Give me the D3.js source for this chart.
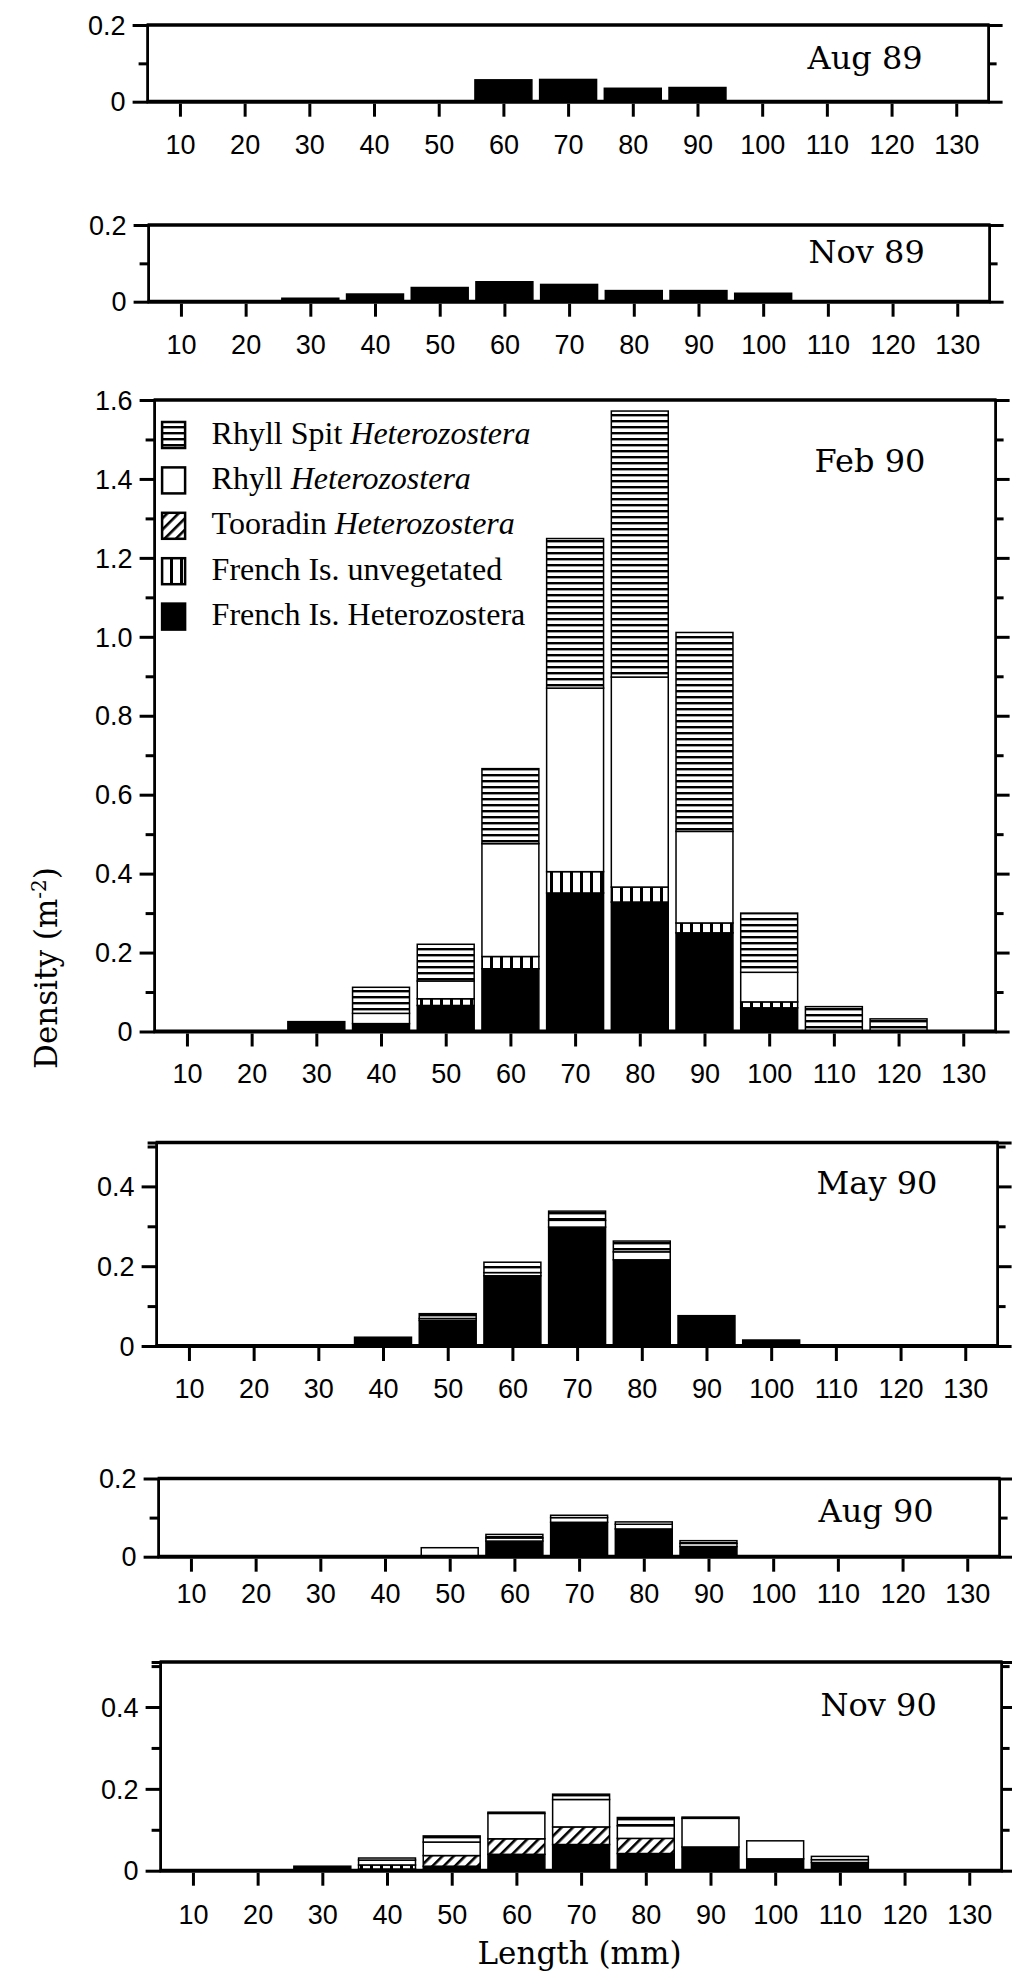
<!DOCTYPE html>
<html lang="en">
<head>
<meta charset="UTF-8">
<script src="https://d3js.org/d3.v7.min.js"></script>
<style>
  body { margin: 0; background: white; }
  .tick text { font-family: "Liberation Sans", Arial, sans-serif; font-size: 27px; fill: black; }
  .tick line { stroke: black; stroke-width: 3; }
  .frame { stroke: black; fill: none; }
  .month { font-family: "DejaVu Serif", serif; font-size: 32px; fill: black; }
  .legend text { font-family: "Liberation Serif", "Times New Roman", serif; font-size: 32px; fill: black; }
  .axis-title { font-family: "DejaVu Serif", serif; font-size: 31px; fill: black; }
  .seg { stroke: black; stroke-width: 1.5; }
</style>
</head>
<body>
<div id="chart"></div>
<script>
// length classes (mm)
const lengths = [10, 20, 30, 40, 50, 60, 70, 80, 90, 100, 110, 120, 130];

// stack order, bottom to top; [plain text, italic text]
const seriesNames = [
  ["French Is. Heterozostera", ""],
  ["French Is. unvegetated", ""],
  ["Tooradin ", "Heterozostera"],
  ["Rhyll ", "Heterozostera"],
  ["Rhyll Spit ", "Heterozostera"]
];

const monthLabels = ["Aug 89", "Nov 89", "Feb 90", "May 90", "Aug 90", "Nov 90"];
const yMax = [0.2, 0.2, 1.6, 0.51, 0.2, 0.51];

// density (m-2) per length class, one row per series in seriesNames order
const aug89 = [
  [0, 0, 0, 0, 0, 0.057, 0.058, 0.035, 0.037, 0, 0, 0, 0],
  [0, 0, 0, 0, 0, 0, 0, 0, 0, 0, 0, 0, 0],
  [0, 0, 0, 0, 0, 0, 0, 0, 0, 0, 0, 0, 0],
  [0, 0, 0, 0, 0, 0, 0, 0, 0, 0, 0, 0, 0],
  [0, 0, 0, 0, 0, 0, 0, 0, 0, 0, 0, 0, 0]
];
const nov89 = [
  [0, 0, 0.009, 0.020, 0.037, 0.052, 0.045, 0.029, 0.029, 0.022, 0, 0, 0],
  [0, 0, 0, 0, 0, 0, 0, 0, 0, 0, 0, 0, 0],
  [0, 0, 0, 0, 0, 0, 0, 0, 0, 0, 0, 0, 0],
  [0, 0, 0, 0, 0, 0, 0, 0, 0, 0, 0, 0, 0],
  [0, 0, 0, 0, 0, 0, 0, 0, 0, 0, 0, 0, 0]
];
const feb90 = [
  [0, 0, 0.025, 0.020, 0.066, 0.159, 0.351, 0.328, 0.250, 0.060, 0, 0, 0],
  [0, 0, 0, 0, 0.017, 0.031, 0.054, 0.038, 0.025, 0.015, 0, 0, 0],
  [0, 0, 0, 0, 0, 0, 0, 0, 0, 0, 0, 0, 0],
  [0, 0, 0, 0.026, 0.045, 0.286, 0.465, 0.532, 0.232, 0.075, 0, 0, 0],
  [0, 0, 0, 0.066, 0.093, 0.190, 0.379, 0.674, 0.504, 0.150, 0.063, 0.032, 0]
];
const may90 = [
  [0, 0, 0, 0.022, 0.064, 0.176, 0.298, 0.216, 0.076, 0.015, 0, 0, 0],
  [0, 0, 0, 0, 0, 0, 0, 0, 0, 0, 0, 0, 0],
  [0, 0, 0, 0, 0, 0, 0, 0, 0, 0, 0, 0, 0],
  [0, 0, 0, 0, 0.005, 0.008, 0.017, 0.020, 0, 0, 0, 0, 0],
  [0, 0, 0, 0, 0.012, 0.026, 0.023, 0.027, 0, 0, 0, 0, 0]
];
const aug90 = [
  [0, 0, 0, 0, 0.002, 0.040, 0.088, 0.071, 0.026, 0, 0, 0, 0],
  [0, 0, 0, 0, 0, 0, 0, 0, 0, 0, 0, 0, 0],
  [0, 0, 0, 0, 0, 0, 0, 0, 0, 0, 0, 0, 0],
  [0, 0, 0, 0, 0.021, 0.008, 0.012, 0.012, 0.008, 0, 0, 0, 0],
  [0, 0, 0, 0, 0, 0.009, 0.006, 0.006, 0.007, 0, 0, 0, 0]
];
const nov90 = [
  [0, 0, 0.011, 0.004, 0.011, 0.040, 0.064, 0.042, 0.058, 0.029, 0.020, 0, 0],
  [0, 0, 0, 0.010, 0, 0, 0, 0, 0, 0, 0, 0, 0],
  [0, 0, 0, 0, 0.026, 0.038, 0.043, 0.037, 0, 0, 0, 0, 0],
  [0, 0, 0, 0.012, 0.033, 0.062, 0.067, 0.031, 0.070, 0.044, 0.007, 0, 0],
  [0, 0, 0, 0.005, 0.015, 0.003, 0.013, 0.020, 0.003, 0, 0.008, 0, 0]
];
const panelData = [aug89, nov89, feb90, may90, aug90, nov90];

// page position of each panel (the scan is slightly skewed, so x0 drifts)
const panels = [
  { x0: 147.6, top: 25,     zero: 101.7,  labY: 43.5, gap: 43 },
  { x0: 148.6, top: 225,    zero: 301.7,  labY: 38,   gap: 43 },
  { x0: 154.6, top: 400,    zero: 1031.5, labY: 72,   gap: 41.5 },
  { x0: 156.6, top: 1142.5, zero: 1346,   labY: 51,   gap: 42 },
  { x0: 158.6, top: 1478.5, zero: 1556.7, labY: 43,   gap: 36.5 },
  { x0: 160.6, top: 1662,   zero: 1870.7, labY: 54,   gap: 44 }
];
const plotW = 841;
const halfBar = 4.4; // mm either side of the class mid-point

const svg = d3.select("#chart").append("svg")
  .attr("width", 1012)
  .attr("height", 1975);

svg.append("rect").attr("width", 1012).attr("height", 1975).attr("fill", "white");

// fill patterns
const defs = svg.append("defs");
const hs = defs.append("pattern").attr("id", "hstripe")
  .attr("patternUnits", "userSpaceOnUse").attr("width", 8).attr("height", 6);
hs.append("rect").attr("width", 8).attr("height", 6).attr("fill", "white");
hs.append("rect").attr("width", 8).attr("height", 2.4).attr("fill", "black");

const vs = defs.append("pattern").attr("id", "vstripe")
  .attr("patternUnits", "userSpaceOnUse").attr("width", 10).attr("height", 8);
vs.append("rect").attr("width", 10).attr("height", 8).attr("fill", "white");
vs.append("rect").attr("width", 3).attr("height", 8).attr("fill", "black");

const dg = defs.append("pattern").attr("id", "diag")
  .attr("patternUnits", "userSpaceOnUse").attr("width", 8).attr("height", 8)
  .attr("patternTransform", "rotate(45)");
dg.append("rect").attr("width", 8).attr("height", 8).attr("fill", "white");
dg.append("rect").attr("width", 2.6).attr("height", 8).attr("fill", "black");

const fills = ["black", "url(#vstripe)", "url(#diag)", "white", "url(#hstripe)"];

const fmt = d => d === 0 ? "0" : d.toFixed(1);

panels.forEach((p, pi) => {
  const data = panelData[pi];
  const x = d3.scaleLinear().domain([5, 135]).range([p.x0, p.x0 + plotW]);
  const y = d3.scaleLinear().domain([0, yMax[pi]]).range([p.zero, p.top]);

  const g = svg.append("g");

  // stacked bars
  const rows = lengths.map((L, i) => {
    const r = data.map(s => s[i]);
    r.L = L;
    return r;
  });
  const stacked = d3.stack().keys(d3.range(seriesNames.length))(rows);

  stacked.forEach((layer, k) => {
    g.append("g")
      .selectAll("rect")
      .data(layer.filter(d => d[1] - d[0] > 0))
      .enter()
      .append("rect")
      .attr("class", "seg")
      .attr("x", d => x(d.data.L - halfBar))
      .attr("width", d => x(d.data.L + halfBar) - x(d.data.L - halfBar))
      .attr("y", d => y(d[1]))
      .attr("height", d => y(d[0]) - y(d[1]))
      .attr("fill", fills[k]);
  });

  // ticks every 0.1, labels on the even ones
  const all = d3.range(0, yMax[pi] + 1e-9, 0.1).map(v => Math.round(v * 10) / 10);
  let major = all.filter(v => Math.round(v * 10) % 2 === 0);
  const minor = all.filter(v => Math.round(v * 10) % 2 === 1);
  const topTick = Math.abs(all[all.length - 1] - yMax[pi]) > 1e-6 ? [yMax[pi]] : [];

  g.append("g").attr("transform", `translate(${p.x0},0)`)
    .call(d3.axisLeft(y).tickValues(major).tickSize(15).tickPadding(7).tickFormat(fmt))
    .call(a => a.select(".domain").remove())
    .call(a => a.selectAll("text").attr("dy", "0.34em"));
  g.append("g").attr("transform", `translate(${p.x0},0)`)
    .call(d3.axisLeft(y).tickValues(minor.concat(topTick)).tickSize(9).tickFormat(""))
    .call(a => a.select(".domain").remove());
  g.append("g").attr("transform", `translate(${p.x0 + plotW},0)`)
    .call(d3.axisRight(y).tickValues(major.concat(topTick)).tickSize(14).tickFormat(""))
    .call(a => a.select(".domain").remove());
  g.append("g").attr("transform", `translate(${p.x0 + plotW},0)`)
    .call(d3.axisRight(y).tickValues(minor).tickSize(8).tickFormat(""))
    .call(a => a.select(".domain").remove());

  g.append("g").attr("transform", `translate(0,${p.zero + 2})`)
    .call(d3.axisBottom(x).tickValues(lengths).tickSize(13).tickPadding(p.gap - 24.5))
    .call(a => a.select(".domain").remove());

  // frame: heavy top and bottom, lighter sides
  g.append("line").attr("class", "frame").attr("stroke-width", 3.5)
    .attr("x1", p.x0 - 1).attr("x2", p.x0 + plotW + 1).attr("y1", p.top).attr("y2", p.top);
  g.append("line").attr("class", "frame").attr("stroke-width", 4)
    .attr("x1", p.x0 - 1).attr("x2", p.x0 + plotW + 1).attr("y1", p.zero).attr("y2", p.zero);
  g.append("line").attr("class", "frame").attr("stroke-width", 2.8)
    .attr("x1", p.x0).attr("x2", p.x0).attr("y1", p.top).attr("y2", p.zero);
  g.append("line").attr("class", "frame").attr("stroke-width", 2.8)
    .attr("x1", p.x0 + plotW).attr("x2", p.x0 + plotW).attr("y1", p.top).attr("y2", p.zero);

  g.append("text")
    .attr("class", "month")
    .attr("x", p.x0 + 660)
    .attr("y", p.top + p.labY)
    .text(monthLabels[pi]);
});

// legend inside the Feb 90 panel
const lp = panels[2];
const legend = svg.append("g").attr("class", "legend");
const legendOrder = d3.range(seriesNames.length).reverse();
legendOrder.forEach((k, i) => {
  const base = 443.5 + i * 45.4;
  legend.append("rect")
    .attr("x", lp.x0 + 7.5)
    .attr("y", base - 21.5)
    .attr("width", 23)
    .attr("height", 26)
    .attr("fill", fills[k])
    .attr("stroke", "black")
    .attr("stroke-width", 2.5);
  const t = legend.append("text").attr("x", lp.x0 + 57).attr("y", base);
  t.append("tspan").text(seriesNames[k][0]);
  if (seriesNames[k][1]) t.append("tspan").attr("font-style", "italic").text(seriesNames[k][1]);
});

// axis titles
const yt = svg.append("text")
  .attr("class", "axis-title")
  .attr("transform", "translate(57,968) rotate(-90)")
  .attr("text-anchor", "middle");
yt.append("tspan").text("Density (m");
yt.append("tspan").attr("font-size", "20px").attr("baseline-shift", "55%").text("-2");
yt.append("tspan").text(")");

svg.append("text")
  .attr("class", "axis-title")
  .attr("x", 579.5)
  .attr("y", 1964)
  .attr("text-anchor", "middle")
  .text("Length (mm)");
</script>
</body>
</html>
